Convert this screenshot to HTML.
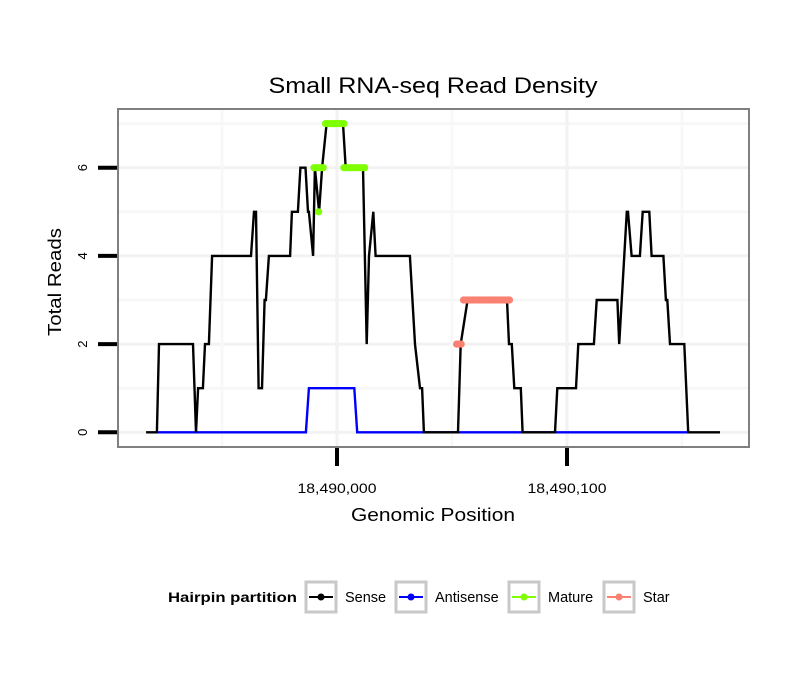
<!DOCTYPE html>
<html><head><meta charset="utf-8"><style>
body{margin:0;background:#fff;}
svg text{font-family:"Liberation Sans",sans-serif;}
</style></head><body>
<svg id="chart" width="810" height="690" xmlns="http://www.w3.org/2000/svg">
<rect width="810" height="690" fill="#fff"/>
<text x="433" y="93" font-size="22" text-anchor="middle" textLength="329" lengthAdjust="spacingAndGlyphs">Small RNA-seq Read Density</text>
<g id="grid"></g>
<g id="plot"></g>
<rect x="118" y="109" width="631" height="338" fill="none" stroke="#808080" stroke-width="2"/>
<g id="axes"></g>
<text x="433" y="521" font-size="18" text-anchor="middle" textLength="164" lengthAdjust="spacingAndGlyphs">Genomic Position</text>
<text transform="translate(61,282) rotate(-90)" font-size="18" text-anchor="middle" textLength="108" lengthAdjust="spacingAndGlyphs">Total Reads</text>
<g>
<text x="168" y="602" font-size="14" font-weight="bold" textLength="129" lengthAdjust="spacingAndGlyphs">Hairpin partition</text>
<g id="legend"></g>
</g>
</svg>
<script>
const NS="http://www.w3.org/2000/svg";
// data: positions relative to 18,490,000
const senseX=[-83,-78.3,-77.4,-62.6,-61.3,-60.4,-58.3,-57.4,-55.7,-54.3,-37.4,-36.1,-35.2,-34.1,-32.6,-31.5,-30.9,-29.6,-20.4,-19.6,-17.0,-15.9,-13.7,-12.6,-12.2,-10.4,-9.6,-7.8,-6.5,-4.5,2.6,3.8,11.3,12.9,13.9,15.8,16.8,31.7,33.9,36.1,37.0,37.8,52.6,53.8,56.8,73.9,74.8,76.0,77.1,79.9,80.7,94.8,95.8,103.9,104.9,111.7,112.9,121.9,122.7,126.0,126.5,128.1,131.7,132.9,135.8,136.8,141.9,143.0,143.6,144.8,151.0,152.7,166.5];
const senseY=[0,0,2,2,0,1,1,2,2,4,4,5,5,1,1,3,3,4,4,5,5,6,6,5,5,4,6,5,6,7,7,6,6,2,4,5,4,4,2,1,1,0,0,2,3,3,2,2,1,1,0,0,1,1,2,2,3,3,2,5,5,4,4,5,5,4,4,3,3,2,2,0,0];
const antiX=[-78.3,-13.5,-12.2,7.5,8.8,152.6];
const antiY=[0,0,1,1,0,0];
const matureX=[-10,-9,-8,-8,-7,-6,-5,-4,-3,-2,-1,0,1,2,3,3,4,5,6,7,8,9,10,11,12];
const matureY=[6,6,6,5,6,6,7,7,7,7,7,7,7,7,7,6,6,6,6,6,6,6,6,6,6];
const starX=[52,53,54,55,56,57,58,59,60,61,62,63,64,65,66,67,68,69,70,71,72,73,74,75];
const starY=[2,2,2,3,3,3,3,3,3,3,3,3,3,3,3,3,3,3,3,3,3,3,3,3];
const yTicks=[0,2,4,6];
const xTicks=[0,100];
const xTickLabels=["18,490,000","18,490,100"];
const xs=v=>337+2.3*v;
const ys=v=>432.3-44.1*v;
function mk(tag,attrs,parent){const e=document.createElementNS(NS,tag);for(const k in attrs)e.setAttribute(k,attrs[k]);parent.appendChild(e);return e;}
const grid=document.getElementById('grid'),plot=document.getElementById('plot'),axes=document.getElementById('axes'),legend=document.getElementById('legend');
[1,3,5,7].forEach(v=>{const l=mk('line',{x1:119,x2:748,y1:ys(v),y2:ys(v),stroke:'#f7f7f7','stroke-width':3},grid);

});
yTicks.forEach(v=>{const l=mk('line',{x1:119,x2:748,y1:ys(v),y2:ys(v),stroke:'#f2f2f2','stroke-width':3},grid);

});
[-50,50,150].forEach(v=>{const l=mk('line',{x1:xs(v),x2:xs(v),y1:110,y2:446,stroke:'#f8f8f8','stroke-width':3},grid);

});
xTicks.forEach(v=>{const l=mk('line',{x1:xs(v),x2:xs(v),y1:110,y2:446,stroke:'#f2f2f2','stroke-width':3},grid);

});
function pts(X,Y){return X.map((x,i)=>xs(x).toFixed(1)+','+ys(Y[i]).toFixed(1)).join(' ');}
const anti=mk('polyline',{points:pts(antiX,antiY),fill:'none',stroke:'#0000ff','stroke-width':2.4},plot);


const sense=mk('polyline',{points:pts(senseX,senseY),fill:'none',stroke:'#000','stroke-width':2.4,'stroke-linejoin':'miter'},plot);


function dots(X,Y,color,name){X.forEach((x,i)=>{const c=mk('circle',{cx:xs(x),cy:ys(Y[i]),r:3.6,fill:color},plot);

});
for(let i=0;i<X.length-1;i++){if(Y[i]===Y[i+1]){const l=mk('line',{x1:xs(X[i]),x2:xs(X[i+1]),y1:ys(Y[i]),y2:ys(Y[i]),stroke:color,'stroke-width':6.5},plot);

}}}
dots(matureX,matureY,'#7fff00','mature-point');
dots(starX,starY,'#fa8072','star-point');
yTicks.forEach(v=>{const t=mk('line',{x1:98,x2:117,y1:ys(v),y2:ys(v),stroke:'#000','stroke-width':4},axes);


const tx=mk('text',{transform:`translate(87,${ys(v)}) rotate(-90)`,'font-size':13,'text-anchor':'middle'},axes);
tx.textContent=v;

});
xTicks.forEach((v,i)=>{const t=mk('line',{x1:xs(v),x2:xs(v),y1:448,y2:466,stroke:'#000','stroke-width':4},axes);


const tx=mk('text',{x:xs(v),y:493,'font-size':14,'text-anchor':'middle',textLength:79,lengthAdjust:'spacingAndGlyphs'},axes);
tx.textContent=xTickLabels[i];

});
const legNames=['Sense','Antisense','Mature','Star'];
const legColors=['#000','#0000ff','#7fff00','#fa8072'];
const legBoxX=[306,396,509,604];
legNames.forEach((n,i)=>{const bx=legBoxX[i];
const g=mk('g',{},legend);


mk('rect',{x:bx,y:582,width:30,height:30,fill:'#fff',stroke:'#c8c8c8','stroke-width':3},g);
mk('line',{x1:bx+3,x2:bx+27,y1:597,y2:597,stroke:legColors[i],'stroke-width':2},g);
mk('circle',{cx:bx+15,cy:597,r:3.5,fill:legColors[i]},g);
const t=mk('text',{x:bx+39,y:602,'font-size':14.5},g);t.textContent=n;});
</script>
</body></html>
